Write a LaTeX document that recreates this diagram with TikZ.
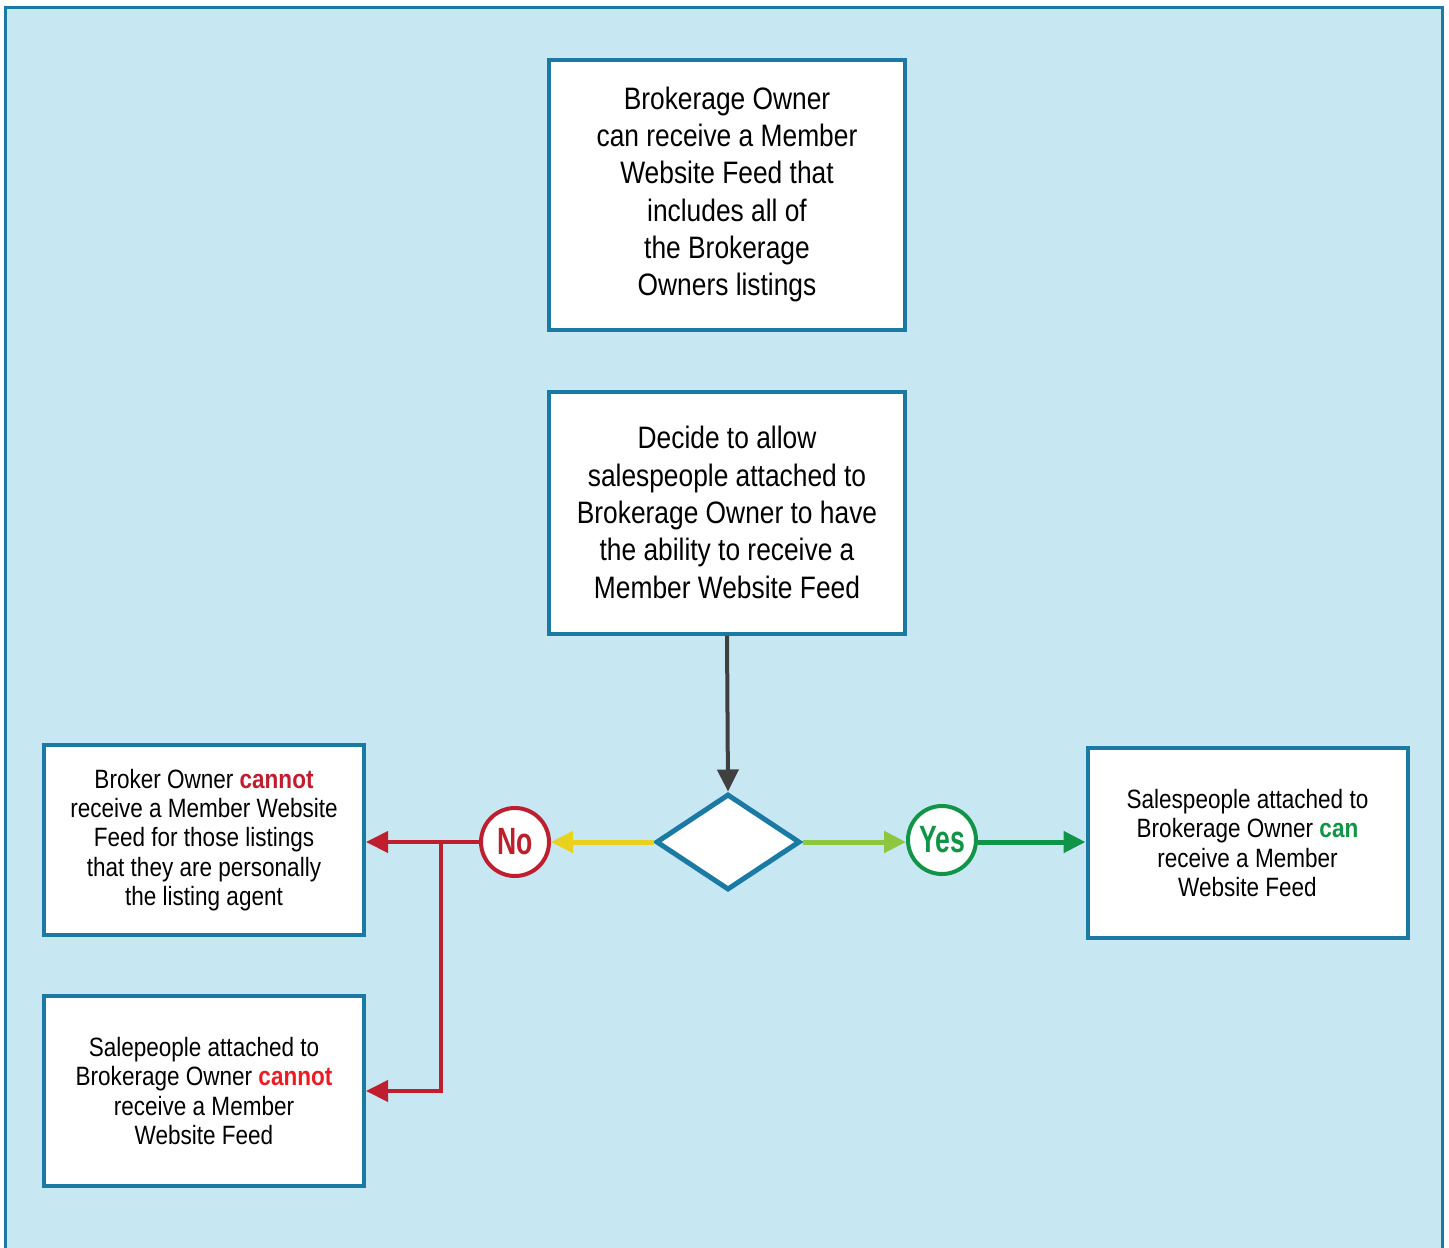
\documentclass[tikz,border=0pt]{standalone}
\usepackage{fontspec}
\setmainfont{Liberation Sans}[FakeStretch=0.85]
\newfontfamily\yesnofont{Liberation Sans}[FakeStretch=0.7]
\usetikzlibrary{arrows.meta,shapes.geometric}
\definecolor{bgblue}{RGB}{199,231,242}
\definecolor{frameblue}{RGB}{26,122,163}
\definecolor{nored}{RGB}{190,30,45}
\definecolor{brightred}{RGB}{237,28,36}
\definecolor{noyellow}{RGB}{232,210,29}
\definecolor{lightgreen}{RGB}{141,198,63}
\definecolor{yesgreen}{RGB}{16,148,71}
\definecolor{darkgray}{RGB}{64,64,65}
\begin{document}
\begin{tikzpicture}[x=1pt,y=-1pt,
  bigbox/.style={draw=frameblue,fill=white,line width=4pt,minimum width=356pt,
    align=center,font=\fontsize{31}{37.3}\selectfont},
  smallbox/.style={draw=frameblue,fill=white,line width=4pt,minimum width=320pt,
    minimum height=190pt,align=center,font=\fontsize{26.5}{29.3}\selectfont},
  answer/.style={circle,fill=white,line width=4pt,minimum size=68pt,inner sep=0pt,
    font=\yesnofont\bfseries\fontsize{38}{38}\selectfont},
  flow/.style={line width=#1,-{Triangle[length=22pt,width=21pt]}},
  flow/.default=4pt]
\useasboundingbox (0,0) rectangle (1449,1248);
\draw [frameblue,fill=bgblue,line width=3pt] (5.5,7.5) rectangle (1442.5,1270);
\node [bigbox,minimum height=270pt] (owner) at (727,194.5)
  {Brokerage Owner\\can receive a Member\\Website Feed that\\includes all of\\the Brokerage\\Owners listings};
\node [bigbox,minimum height=242pt] (decide) at (727,512.5)
  {Decide to allow\\salespeople attached to\\Brokerage Owner to have\\the ability to receive a\\Member Website Feed};
\node [diamond,draw=frameblue,fill=white,line width=5pt,inner sep=0pt,aspect=1.5,
  minimum width=144pt,minimum height=96pt] (choice) at (728,842) {};
\node [answer,draw=nored,text=nored] (no) at (515,842) {No};
\node [answer,draw=yesgreen,text=yesgreen] (yes) at (942,840) {Yes};
\node [smallbox] (broker) at (204,840)
  {Broker Owner \textcolor{nored}{\bfseries cannot}\\receive a Member Website\\Feed for those listings\\that they are personally\\the listing agent};
\node [smallbox] (sales) at (204,1091)
  {Salepeople attached to\\Brokerage Owner \textcolor{brightred}{\bfseries cannot}\\receive a Member\\Website Feed};
\node [smallbox] (salesyes) at (1247.5,843)
  {Salespeople attached to\\Brokerage Owner \textcolor{yesgreen}{\bfseries can}\\receive a Member\\Website Feed};
\coordinate (split) at (441,842);
\draw [flow,darkgray] (decide.south) -- (choice.north);
\draw [flow=5pt,noyellow] (choice.west) -- (no.east);
\draw [flow=5pt,lightgreen] (choice.east) -- (yes.west |- choice.east);
\draw [flow=5pt,yesgreen] (yes.east |- choice.east) -- (choice.east -| salesyes.west);
\draw [flow,nored] (no.west) -- (no.west -| broker.east);
\draw [flow,nored,rounded corners=0pt] (split) |- (sales.east);
\end{tikzpicture}
\end{document}
